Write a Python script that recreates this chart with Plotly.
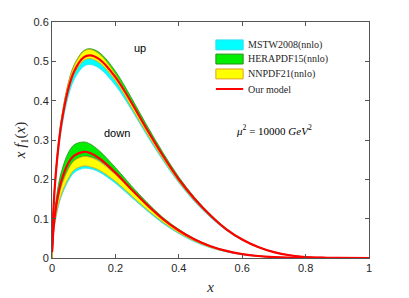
import plotly.graph_objects as go

x = [0, 0.005, 0.01, 0.02, 0.03, 0.05, 0.07, 0.1, 0.12, 0.15, 0.2, 0.25, 0.3, 0.35,
     0.4, 0.45, 0.5, 0.55, 0.6, 0.65, 0.7, 0.75, 0.8, 0.85, 0.9, 1.0]

# ---- up quark ----
model_up = [0.015, 0.131, 0.194, 0.282, 0.344, 0.426, 0.475, 0.510, 0.515, 0.505, 0.460, 0.396,
            0.326, 0.260, 0.200, 0.150, 0.108, 0.073, 0.047, 0.028, 0.015, 0.007, 0.0025,
            0.0008, 0.0002, 0]
mstw_up_lo = [0, 0.125, 0.185, 0.269, 0.328, 0.407, 0.454, 0.487, 0.492, 0.482, 0.439, 0.378,
              0.311, 0.248, 0.191, 0.143, 0.103, 0.070, 0.045, 0.027, 0.014, 0.0067, 0.0024,
              0.0008, 0.0002, 0]
mstw_up_hi = [0, 0.129, 0.191, 0.278, 0.339, 0.420, 0.468, 0.502, 0.507, 0.497, 0.453, 0.390,
              0.321, 0.256, 0.197, 0.148, 0.106, 0.072, 0.046, 0.0276, 0.0148, 0.0069, 0.0025,
              0.0008, 0.0002, 0]
hera_up_lo = [0, 0.130, 0.193, 0.281, 0.342, 0.424, 0.473, 0.507, 0.512, 0.502, 0.458, 0.394,
              0.324, 0.259, 0.199, 0.149, 0.107, 0.0726, 0.0468, 0.0279, 0.0149, 0.007, 0.0025,
              0.0008, 0.0002, 0]
hera_up_hi = [0, 0.136, 0.201, 0.291, 0.355, 0.440, 0.491, 0.527, 0.532, 0.522, 0.475, 0.408,
              0.336, 0.268, 0.206, 0.154, 0.111, 0.075, 0.0483, 0.029, 0.0155, 0.0072, 0.0026,
              0.0008, 0.0002, 0]
nnpdf_up_lo = [0, 0.129, 0.191, 0.278, 0.339, 0.420, 0.468, 0.502, 0.507, 0.496, 0.451, 0.384,
               0.316, 0.252, 0.194, 0.1455, 0.105, 0.071, 0.0456, 0.0272, 0.0146, 0.0068, 0.0024,
               0.0008, 0.0002, 0]
nnpdf_up_hi = [0, 0.135, 0.200, 0.290, 0.354, 0.439, 0.489, 0.525, 0.530, 0.518, 0.467, 0.394,
               0.324, 0.259, 0.199, 0.149, 0.1075, 0.0727, 0.0468, 0.0279, 0.0149, 0.007, 0.0025,
               0.0008, 0.0002, 0]

# ---- down quark ----
model_down = [0.015, 0.077, 0.114, 0.163, 0.197, 0.239, 0.260, 0.270, 0.267, 0.253, 0.217, 0.175,
              0.135, 0.099, 0.070, 0.047, 0.030, 0.018, 0.010, 0.005, 0.0022, 0.0009, 0.0003,
              0.0001, 0, 0]
mstw_down_lo = [0, 0.063, 0.092, 0.131, 0.158, 0.194, 0.217, 0.228, 0.227, 0.218, 0.190, 0.155,
                0.120, 0.088, 0.062, 0.041, 0.026, 0.0155, 0.0086, 0.0043, 0.0019, 0.0007, 0.0002,
                0.0001, 0, 0]
mstw_down_hi = [0, 0.076, 0.110, 0.155, 0.186, 0.226, 0.251, 0.262, 0.259, 0.246, 0.211, 0.170,
                0.131, 0.096, 0.067, 0.045, 0.028, 0.017, 0.0094, 0.0047, 0.0021, 0.0008, 0.0003,
                0.0001, 0, 0]
hera_down_lo = [0, 0.070, 0.105, 0.152, 0.185, 0.225, 0.248, 0.258, 0.258, 0.248, 0.214, 0.173,
                0.134, 0.098, 0.069, 0.046, 0.029, 0.0175, 0.0097, 0.0048, 0.0021, 0.0008, 0.0003,
                0.0001, 0, 0]
hera_down_hi = [0, 0.090, 0.130, 0.185, 0.220, 0.265, 0.288, 0.295, 0.290, 0.272, 0.230, 0.184,
                0.141, 0.103, 0.073, 0.049, 0.031, 0.0187, 0.0104, 0.0052, 0.0023, 0.0009, 0.0003,
                0.0001, 0, 0]
nnpdf_down_lo = [0, 0.065, 0.095, 0.136, 0.163, 0.200, 0.224, 0.234, 0.232, 0.223, 0.195, 0.159,
                 0.123, 0.091, 0.064, 0.043, 0.027, 0.0163, 0.009, 0.0045, 0.002, 0.0008, 0.0002,
                 0.0001, 0, 0]
nnpdf_down_hi = [0, 0.075, 0.108, 0.152, 0.183, 0.223, 0.247, 0.258, 0.256, 0.245, 0.212, 0.172,
                 0.133, 0.098, 0.069, 0.046, 0.029, 0.0175, 0.0097, 0.0048, 0.0021, 0.0008, 0.0003,
                 0.0001, 0, 0]

x_ticks = [0, 0.2, 0.4, 0.6, 0.8, 1]
x_tick_text = ["0", "0.2", "0.4", "0.6", "0.8", "1"]
y_ticks = [0, 0.1, 0.2, 0.3, 0.4, 0.5, 0.6]
y_tick_text = ["0", "0.1", "0.2", "0.3", "0.4", "0.5", "0.6"]

legend_names = ["MSTW2008(nnlo)", "HERAPDF15(nnlo)", "NNPDF21(nnlo)", "Our model"]

sets = [
    (legend_names[0], "#00FFFF", "#33DDEE", [(mstw_up_lo, mstw_up_hi), (mstw_down_lo, mstw_down_hi)]),
    (legend_names[1], "#00EE00", "#2E8B22", [(hera_up_lo, hera_up_hi), (hera_down_lo, hera_down_hi)]),
    (legend_names[2], "#FFFF00", "#E0A020", [(nnpdf_up_lo, nnpdf_up_hi), (nnpdf_down_lo, nnpdf_down_hi)]),
]
model_color = "#FF0000"

fig = go.Figure()
for name, fill, edge, bands in sets:
    for lo, hi in bands:
        fig.add_trace(go.Scatter(
            x=x + x[::-1], y=hi + lo[::-1], fill="toself", fillcolor=fill,
            mode="lines", line=dict(color=edge, width=0.8, shape="spline", smoothing=1.0),
            name=name, showlegend=False, hoverinfo="skip"))

for m in [model_up, model_down]:
    fig.add_trace(go.Scatter(
        x=x, y=m, mode="lines", line=dict(color=model_color, width=2.2, shape="spline", smoothing=1.0),
        name=legend_names[3], showlegend=False))

# manual legend (MATLAB-style: wide swatches, tight rows), placed in paper coordinates
leg_x0, leg_x1, leg_tx = 0.517, 0.603, 0.612
leg_rows = [0.903, 0.843, 0.780, 0.716]
sw_h = 0.021
for (name, fill, edge, _), ry in zip(sets, leg_rows):
    fig.add_shape(type="rect", xref="paper", yref="paper", x0=leg_x0, x1=leg_x1,
                  y0=ry - sw_h, y1=ry + sw_h, fillcolor=fill, line=dict(color=edge, width=1))
fig.add_shape(type="line", xref="paper", yref="paper", x0=leg_x0, x1=leg_x1,
              y0=leg_rows[3], y1=leg_rows[3], line=dict(color=model_color, width=2))
for name, ry in zip(legend_names, leg_rows):
    fig.add_annotation(xref="paper", yref="paper", x=leg_tx, y=ry, text=name, showarrow=False,
                       xanchor="left", yanchor="middle",
                       font=dict(family="Liberation Serif", size=10, color="#262626"))

axis_common = dict(showline=True, linecolor="#555555", linewidth=1, mirror="ticks",
                   ticks="inside", ticklen=4, tickcolor="#555555", showgrid=False, zeroline=False,
                   automargin=False,
                   tickfont=dict(family="Liberation Sans, Arial", size=11, color="#262626"))

# page body has an 8px margin, so the figure is shrunk by 8px and margins shifted
fig.update_layout(
    width=401, height=290,
    margin=dict(l=44, r=40, t=14, b=40),
    plot_bgcolor="white", paper_bgcolor="white",
    xaxis=dict(range=[0, 1], tickvals=x_ticks, ticktext=x_tick_text,
               title=dict(text="<i>x</i>", font=dict(family="Liberation Serif", size=15, color="#262626"),
                          standoff=8),
               **axis_common),
    yaxis=dict(range=[0, 0.6], tickvals=y_ticks, ticktext=y_tick_text,
               title=dict(text="<i>x f</i><sub>1</sub>(<i>x</i>)",
                          font=dict(family="Liberation Serif", size=15, color="#262626"), standoff=4),
               **axis_common),
    showlegend=False,
)

fig.add_annotation(x=0.278, y=0.534, text="up", showarrow=False,
                   font=dict(family="Liberation Sans, Arial", size=11, color="#000000"))
fig.add_annotation(x=0.205, y=0.318, text="down", showarrow=False,
                   font=dict(family="Liberation Sans, Arial", size=11, color="#000000"))
fig.add_annotation(x=0.70, y=0.326, text="<i>μ</i><sup>2</sup> = 10000 <i>GeV</i><sup>2</sup>",
                   showarrow=False, font=dict(family="Liberation Serif", size=11, color="#000000"))

fig.write_html("out.html")
